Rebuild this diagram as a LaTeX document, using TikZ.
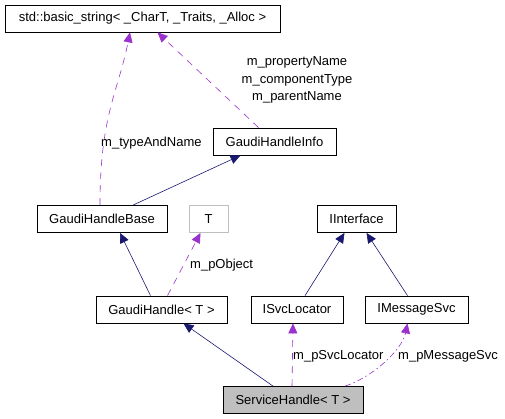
\documentclass[tikz,border=0pt]{standalone}
\usepackage{fontspec}
\setmainfont{Liberation Sans}
\usetikzlibrary{arrows.meta}
\definecolor{inh}{HTML}{191970}
\definecolor{use}{HTML}{9A32CD}
\tikzset{
  cls/.style={draw=black, line width=0.8pt, fill=white, inner sep=0pt, minimum height=27pt, font=\fontsize{13}{17.5}\selectfont},
  inhedge/.style={draw=inh, line width=0.6pt, -{Triangle[length=10pt,width=9pt]}},
  useedge/.style={draw=use, line width=0.6pt, dash pattern=on 7pt off 6pt, -{Triangle[length=10pt,width=9pt]}},
  lbl/.style={font=\fontsize{13}{17.5}\selectfont, inner sep=0pt, align=center}
}
\begin{document}
\begin{tikzpicture}[x=1pt,y=1pt]
\useasboundingbox (0,0) rectangle (505,418);
\node[cls, minimum width=275pt] (bstr) at (142.5,399.5) {std::basic\_string< \_CharT, \_Traits, \_Alloc >};
\node[cls, minimum width=123pt] (ginfo) at (274.5,276.5) {GaudiHandleInfo};
\node[cls, minimum width=130pt] (gbase) at (102,199) {GaudiHandleBase};
\node[cls, draw={rgb,255:red,191;green,191;blue,191}, minimum width=39pt] (T) at (208.5,199) {T};
\node[cls, minimum width=79pt] (iint) at (356.5,199) {IInterface};
\node[cls, minimum width=131pt] (ghandle) at (161.5,108.5) {GaudiHandle< T >};
\node[cls, minimum width=92pt] (isvc) at (297,108.5) {ISvcLocator};
\node[cls, minimum width=103pt] (imsg) at (416.5,108.5) {IMessageSvc};
\node[cls, fill={rgb,255:red,191;green,191;blue,191}, minimum width=140pt] (shandle) at (293,18) {ServiceHandle< T >};

% inheritance
\draw[inhedge] ([xshift=31pt]gbase.north) -- ([xshift=-34pt]ginfo.south);
\draw[inhedge] ([xshift=-11pt]ghandle.north) -- ([xshift=18pt]gbase.south);
\draw[inhedge] ([xshift=8pt]isvc.north) -- ([xshift=-12pt]iint.south);
\draw[inhedge] ([xshift=-9pt]imsg.north) -- ([xshift=10pt]iint.south);
\draw[inhedge] ([xshift=-20pt]shandle.north) -- ([xshift=22pt]ghandle.south);

% usage
\draw[useedge] ([xshift=-2pt]gbase.north) .. controls +(0,90) and +(-12,-60) .. ([xshift=-12.5pt]bstr.south);
\node[lbl, anchor=west] (l1) at (101,275) {m\_typeAndName};
\draw[useedge] ([xshift=-16pt]ginfo.north) -- ([xshift=15pt]bstr.south);
\node[lbl] (l2) at (297,338) {m\_propertyName\\m\_componentType\\m\_parentName};
\draw[useedge] ([xshift=6pt]ghandle.north) -- ([xshift=-8pt]T.south);
\node[lbl, anchor=west] (l3) at (190,153) {m\_pObject};
\draw[useedge] ([xshift=-1pt]shandle.north) -- ([xshift=-4pt]isvc.south);
\node[lbl, anchor=west] (l4) at (293,62) {m\_pSvcLocator};
\draw[useedge, dash pattern=on 6pt off 3pt on 1.5pt off 3pt] ([xshift=52pt]shandle.north) .. controls +(30,10) and +(-5,-25) .. ([xshift=-9pt]imsg.south);
\node[lbl, anchor=west] (l5) at (398,62) {m\_pMessageSvc};
\end{tikzpicture}
\end{document}
